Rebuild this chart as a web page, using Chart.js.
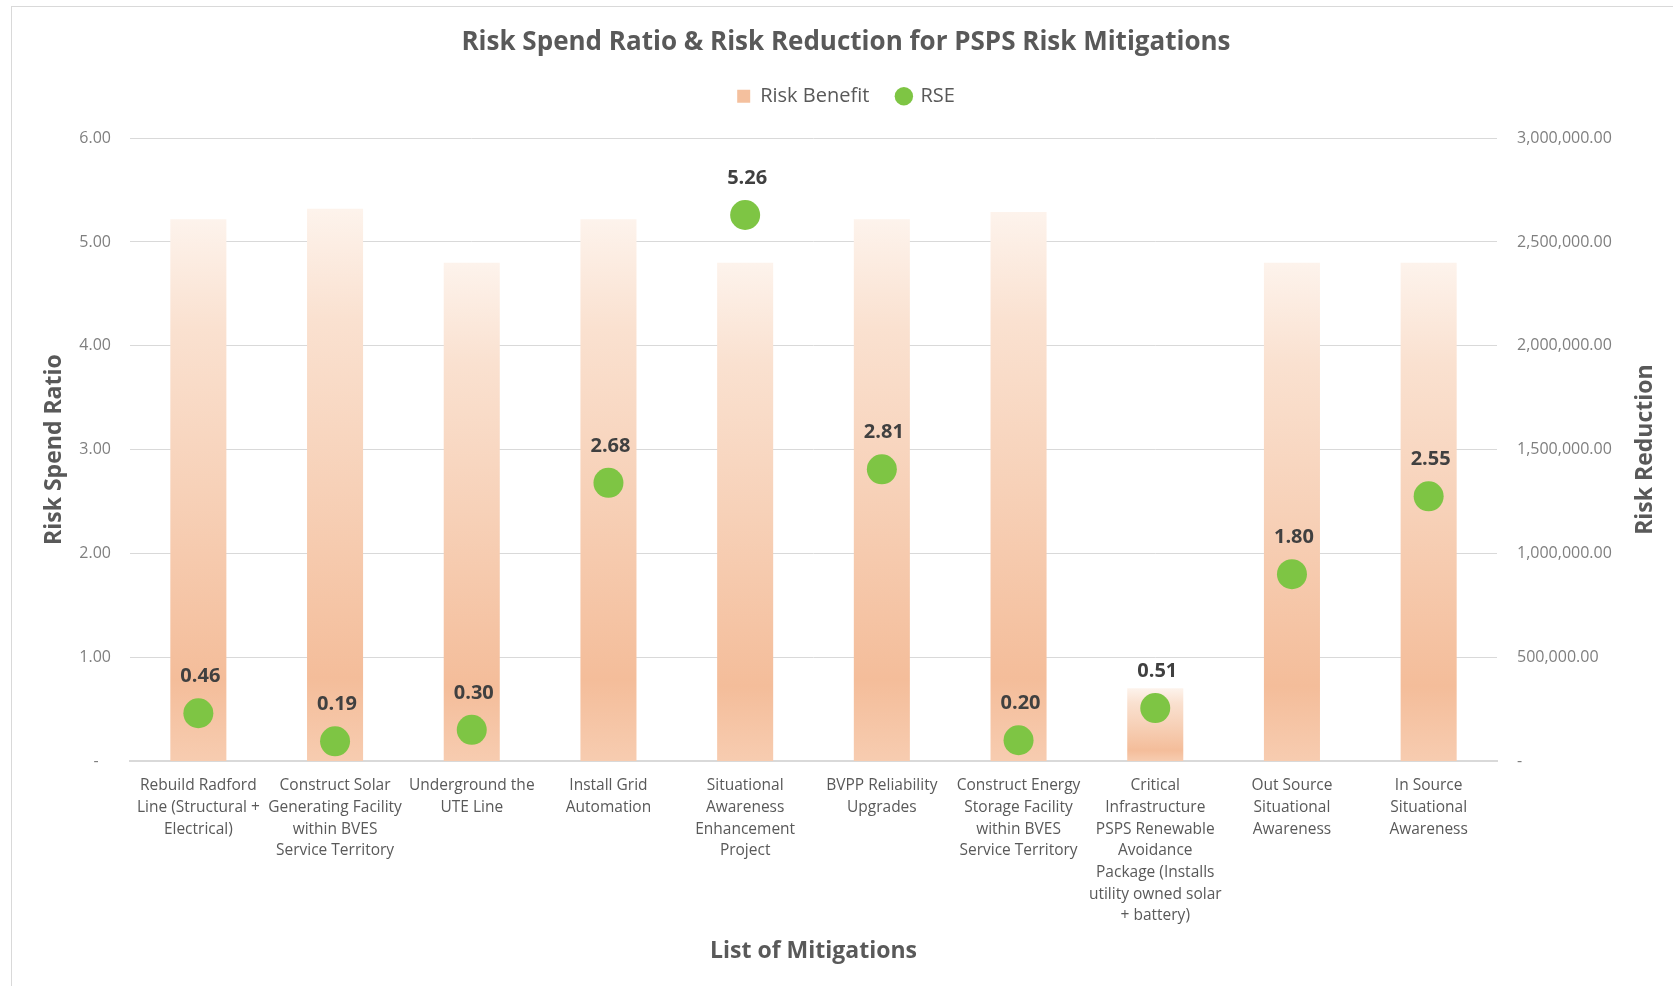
<!DOCTYPE html>
<html>
<head>
<meta charset="utf-8">
<script src="https://cdn.jsdelivr.net/npm/chart.js@4.4.1/dist/chart.umd.min.js"></script>
<style>
  html, body { margin: 0; padding: 0; background: #fff; overflow: hidden; }
  #frame {
    position: absolute; left: 11px; top: 6px;
    width: 1668px; height: 979px;
    border-left: 1px solid #d9d9d9; border-top: 1px solid #d9d9d9;
  }
  canvas { display: block; }
</style>
</head>
<body>
<div id="frame"><canvas id="chart" width="1668" height="979"></canvas></div>
<script>
// categories (wrapped the way the axis shows them)
const mitigations = [
  ["Rebuild Radford", "Line (Structural +", "Electrical)"],
  ["Construct Solar", "Generating Facility", "within BVES", "Service Territory"],
  ["Underground the", "UTE Line"],
  ["Install Grid", "Automation"],
  ["Situational", "Awareness", "Enhancement", "Project"],
  ["BVPP Reliability", "Upgrades"],
  ["Construct Energy", "Storage Facility", "within BVES", "Service Territory"],
  ["Critical", "Infrastructure", "PSPS Renewable", "Avoidance", "Package (Installs", "utility owned solar", "+ battery)"],
  ["Out Source", "Situational", "Awareness"],
  ["In Source", "Situational", "Awareness"]
];

// Risk Benefit (right axis, risk reduction)
const riskBenefit = [2610000, 2660000, 2400000, 2610000, 2400000, 2610000, 2645000, 350000, 2400000, 2400000];

// RSE (left axis, risk spend ratio)
const rse = [0.46, 0.19, 0.30, 2.68, 5.26, 2.81, 0.20, 0.51, 1.80, 2.55];

// axis ranges
const ratioMin = 0, ratioMax = 6, ratioStep = 1;
const reductionMin = 0, reductionMax = 3000000, reductionStep = 500000;

const peach = "#f4c09e";
const green = "#7ec544";
const textDark = "#595959";
const textLight = "#7f7f7f";
const gridColor = "#d9d9d9";

// bar gradient: pale at the top, strong peach near the base
function barFill(ctx) {
  const chart = ctx.chart;
  if (!chart.chartArea || ctx.type !== "data") return peach;
  const scale = chart.scales.y2;
  const top = scale.getPixelForValue(ctx.raw);
  const base = scale.getPixelForValue(0);
  if (!isFinite(top) || !isFinite(base) || base - top < 1) return peach;
  const g = chart.ctx.createLinearGradient(0, top, 0, base);
  g.addColorStop(0, "#fdf3ec");
  g.addColorStop(0.2, "#fae1d0");
  g.addColorStop(0.5, "#f7d1b8");
  g.addColorStop(0.85, "#f4bd9a");
  g.addColorStop(1, "#f7ccb0");
  return g;
}

// value labels above the RSE dots
const pointLabels = {
  id: "pointLabels",
  afterDatasetsDraw(chart) {
    const meta = chart.getDatasetMeta(1);
    const ctx = chart.ctx;
    ctx.save();
    ctx.font = "bold 20px 'Open Sans'";
    ctx.fillStyle = "#404040";
    ctx.textAlign = "center";
    ctx.textBaseline = "middle";
    meta.data.forEach((pt, i) => {
      ctx.fillText(rse[i].toFixed(2), pt.x + 2, pt.y - 37);
    });
    ctx.restore();
  }
};

// right axis title reads bottom-to-top, like the left one
const rightTitle = {
  id: "rightTitle",
  afterDraw(chart) {
    const ctx = chart.ctx;
    ctx.save();
    ctx.translate(1633, (chart.chartArea.top + chart.chartArea.bottom) / 2);
    ctx.rotate(-Math.PI / 2);
    ctx.font = "bold 23px 'Open Sans'";
    ctx.fillStyle = textDark;
    ctx.textAlign = "center";
    ctx.textBaseline = "middle";
    ctx.fillText("Risk Reduction", 0, 0);
    ctx.restore();
  }
};

// extra room under the legend
const legendGap = {
  id: "legendGap",
  beforeInit(chart) {
    const fit = chart.legend.fit;
    chart.legend.fit = function () {
      fit.bind(chart.legend)();
      this.height += 22;
    };
  }
};

new Chart(document.getElementById("chart"), {
  type: "bar",
  data: {
    labels: mitigations,
    datasets: [
      {
        type: "bar",
        label: "Risk Benefit",
        data: riskBenefit,
        yAxisID: "y2",
        backgroundColor: barFill,
        borderWidth: 0,
        barPercentage: 0.41,
        categoryPercentage: 1,
        order: 2
      },
      {
        type: "line",
        label: "RSE",
        data: rse,
        yAxisID: "y",
        showLine: false,
        pointRadius: 15,
        pointHoverRadius: 15,
        pointBackgroundColor: green,
        pointBorderWidth: 0,
        borderColor: green,
        backgroundColor: green,
        order: 1
      }
    ]
  },
  options: {
    responsive: false,
    animation: false,
    layout: { padding: 0 },
    plugins: {
      tooltip: { enabled: false },
      title: {
        display: true,
        text: "Risk Spend Ratio & Risk Reduction for PSPS Risk Mitigations",
        color: textDark,
        font: { family: "'Open Sans'", size: 26, weight: "bold" },
        padding: { top: 20, bottom: 0 }
      },
      legend: {
        position: "top",
        labels: {
          usePointStyle: true,
          boxWidth: 13,
          boxHeight: 13,
          padding: 28,
          color: textDark,
          font: { family: "'Open Sans'", size: 20 },
          sort: (a, b) => a.datasetIndex - b.datasetIndex,
          generateLabels(chart) {
            const items = Chart.defaults.plugins.legend.labels.generateLabels(chart);
            items.forEach(it => {
              if (it.datasetIndex === 0) {
                it.fillStyle = peach;
                it.strokeStyle = peach;
                it.pointStyle = "rect";
              } else {
                it.fillStyle = green;
                it.strokeStyle = green;
                it.pointStyle = "circle";
              }
              it.lineWidth = 0;
            });
            return items;
          }
        }
      }
    },
    scales: {
      x: {
        offset: true,
        grid: { display: false, drawTicks: false },
        border: { display: true, color: gridColor, width: 2 },
        ticks: {
          autoSkip: false,
          maxRotation: 0,
          padding: 14,
          color: textDark,
          font: { family: "'Open Sans'", size: 15.5, lineHeight: 1.4 }
        },
        title: {
          display: true,
          text: "List of Mitigations",
          color: textDark,
          font: { family: "'Open Sans'", size: 23, weight: "bold" },
          padding: { top: 0, bottom: 21 }
        },
        afterFit(scale) { scale.height = 225; }
      },
      y: {
        position: "left",
        min: ratioMin,
        max: ratioMax,
        grid: { color: gridColor, lineWidth: 1, drawTicks: false },
        border: { display: false },
        ticks: {
          stepSize: ratioStep,
          padding: 19,
          color: textLight,
          font: { family: "'Open Sans'", size: 16 },
          callback: v => v === 0 ? "-   " : v.toFixed(2)
        },
        title: {
          display: true,
          text: "Risk Spend Ratio",
          color: textDark,
          font: { family: "'Open Sans'", size: 23, weight: "bold" },
          padding: { top: 29, bottom: 0 }
        },
        afterFit(scale) { scale.width = 118; }
      },
      y2: {
        position: "right",
        min: reductionMin,
        max: reductionMax,
        grid: { display: false, drawTicks: false },
        border: { display: false },
        ticks: {
          stepSize: reductionStep,
          padding: 20,
          color: textLight,
          font: { family: "'Open Sans'", size: 16 },
          callback: v => v === 0 ? "-" : v.toLocaleString("en-US", { minimumFractionDigits: 2, maximumFractionDigits: 2 })
        },
        afterFit(scale) { scale.width = 183; }
      }
    }
  },
  plugins: [pointLabels, rightTitle, legendGap]
});
</script>
</body>
</html>
